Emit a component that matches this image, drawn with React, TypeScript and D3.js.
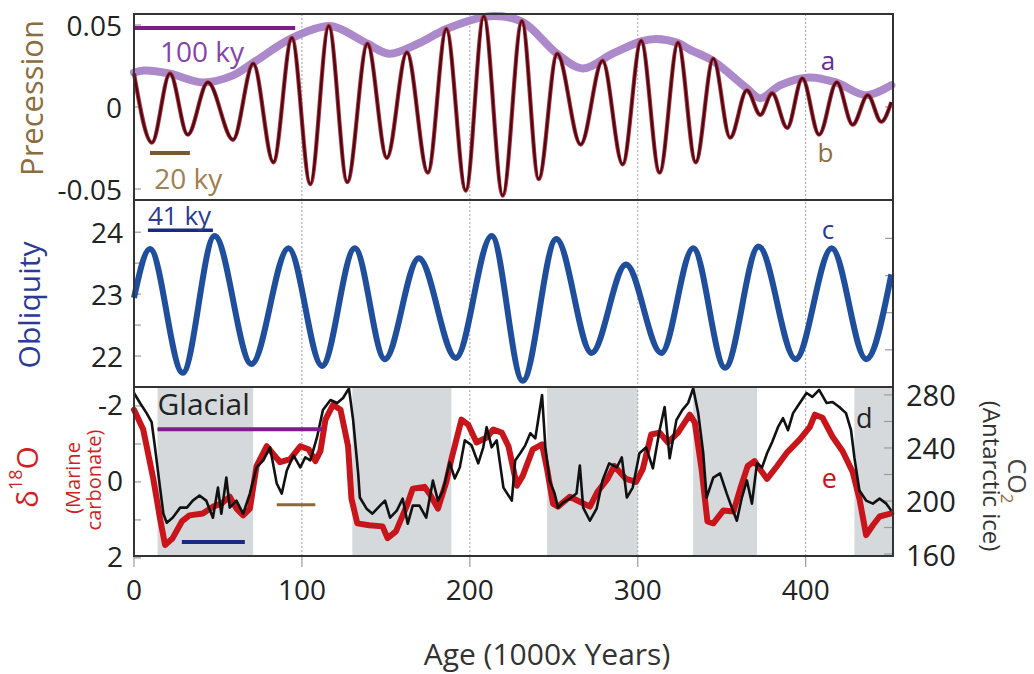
import React from "react";
import * as d3 from "d3";

// ---- data (age in 1000 years) ----
const precessionAge = [0, 10.7, 21.4, 32, 44, 59, 71, 83, 94, 105, 116, 127, 139, 150.6, 162.5, 175, 186, 197.6, 208.3, 219.6, 231, 241, 252, 266, 279, 291, 302, 313, 324, 334.5, 345, 355, 365, 373, 380, 389, 398, 408, 418.5, 428, 437, 445, 451];
const precessionVal = [0.0205, -0.0217, 0.0205, -0.0169, 0.0151, -0.02, 0.0265, -0.0337, 0.0422, -0.047, 0.0494, -0.0458, 0.0386, -0.031, 0.0333, -0.04, 0.0476, -0.051, 0.0554, -0.054, 0.0524, -0.044, 0.0325, -0.0229, 0.0283, -0.035, 0.0404, -0.04, 0.0392, -0.0337, 0.0295, -0.0187, 0.0102, -0.0048, 0.0084, -0.0127, 0.0175, -0.0169, 0.0151, -0.0108, 0.0072, -0.009, 0.003];

const envelopeAge = [0, 6, 21, 41, 59, 71, 94, 116, 123, 139, 152, 170, 186, 212, 231, 252, 267, 285, 302, 311, 324, 331, 345, 365, 373, 385, 402, 418, 436, 451];
const envelopeVal = [0.021, 0.0223, 0.0205, 0.015, 0.0193, 0.027, 0.042, 0.0494, 0.0476, 0.0386, 0.0325, 0.039, 0.0476, 0.0554, 0.052, 0.0325, 0.0235, 0.0325, 0.04, 0.0415, 0.039, 0.035, 0.028, 0.0114, 0.0054, 0.0133, 0.018, 0.015, 0.0072, 0.0133];

const obliquityAge = [0, 9.5, 29, 48, 70, 92, 112, 131.5, 149.4, 169.6, 191.7, 213, 231.5, 251.5, 272.5, 293, 314, 333, 352, 372, 394, 415.5, 436, 451];
const obliquityVal = [22.94, 23.73, 21.73, 23.94, 21.87, 23.74, 21.84, 23.74, 21.95, 23.58, 21.97, 23.94, 21.6, 23.89, 22.05, 23.48, 22.05, 23.74, 21.81, 23.77, 21.95, 23.74, 21.95, 23.32];

const d18OAge = [0, 5.5, 11.5, 15.5, 18.5, 23, 28.5, 33, 41, 47, 52, 57, 61, 65, 69, 73, 79, 83, 87, 93, 99, 104, 108, 111, 114, 118.5, 123, 127.5, 129.5, 133, 140, 148, 151, 156, 162.5, 166, 173, 176, 181, 186, 189, 195, 199, 204, 210, 214, 219, 223, 228, 231.5, 237.5, 243, 246, 249.5, 252.5, 259.5, 265.5, 271.5, 276, 282, 286, 293, 299, 303, 308, 313, 318, 324, 331, 334, 338, 341.5, 345, 351, 357, 361, 365.5, 369.5, 374, 377, 383, 389, 396.5, 402.5, 405.5, 410, 416, 422, 428, 432, 436, 440, 444, 451];
const d18OVal = [-1.9, -1.38, -0.08, 0.96, 1.66, 1.48, 1.04, 0.88, 0.83, 0.65, 0.57, 0.39, 0.7, 0.88, 0.7, -0.42, -0.94, -0.73, -0.52, -0.6, -0.94, -0.86, -0.55, -0.81, -1.64, -2.03, -1.9, -0.94, 0.44, 1.09, 1.14, 1.17, 1.48, 1.3, 0.62, 0.18, 0.13, 0.31, 0.7, 0, -0.6, -1.64, -1.51, -1.04, -1.17, -1.38, -1.3, -0.94, 0.1, -0.16, -0.86, -0.99, -0.34, 0.57, 0.65, 0.39, 0.52, 0.65, 0.26, -0.08, -0.42, -0.08, 0, -0.34, -1.25, -1.3, -1.04, -1.3, -1.77, -1.56, -0.34, 1.04, 1.09, 0.75, 0.78, 0.18, -0.42, -0.55, -0.26, -0.08, -0.42, -0.78, -1.12, -1.45, -1.77, -1.69, -1.19, -0.81, -0.26, 0.44, 1.4, 1.14, 0.91, 0.83];

const co2Age = [0, 3.6, 7.5, 10.5, 12.5, 15.5, 17.5, 19.5, 23, 27.5, 31.5, 35, 39, 43, 47, 50, 52, 55, 57, 61, 65, 69, 73, 77, 81, 85, 88, 91, 95, 99, 102, 105, 109, 112.5, 117, 121, 124.5, 128, 130.5, 133.5, 134.5, 138.5, 142, 146.5, 149.5, 152.5, 156.5, 160, 163, 166, 170, 174, 178, 181, 184, 188, 191, 194, 197, 201, 205, 208, 210, 213, 216, 220, 225, 227, 230, 233, 236, 239, 243, 245, 247.5, 250.5, 252.5, 255.5, 259.5, 263.5, 265.5, 267.5, 271.5, 275.5, 279, 283, 287.5, 290.5, 293.5, 297, 301, 305, 309, 313, 316, 319, 323, 326.5, 330, 333, 336, 339, 341, 345, 349, 353, 356, 359, 362, 365, 368, 371, 374, 377, 380, 383.5, 386.5, 389.5, 392.5, 396.5, 400.5, 404, 408, 412.5, 416, 420, 424, 427, 429, 432, 436, 440, 444, 448, 451];
const co2Val = [281.5, 273.9, 266.3, 259.5, 240.5, 210.1, 190.4, 183.6, 187.4, 195, 195, 200.3, 204.1, 200.3, 187.4, 210.1, 190.4, 217.7, 195, 200.3, 190.4, 205.6, 225.3, 230.6, 240.5, 213.2, 205.6, 223, 234.4, 225.3, 232.9, 230.6, 248.1, 268.6, 276.2, 273.9, 277.7, 285, 261, 220.8, 202.6, 194.2, 190.4, 196.5, 200.3, 187.4, 192.7, 201.8, 182.8, 196.5, 196.5, 187.4, 215.5, 200.3, 207.9, 229.1, 217, 225.3, 245.8, 242, 228.4, 240.5, 255.7, 240.5, 245.8, 210.1, 200.3, 230.6, 236, 242, 251.1, 247.3, 280, 240.5, 215.5, 205.6, 195, 198.8, 201.8, 205.6, 226.8, 195, 185.1, 194.2, 215.5, 228.4, 225.3, 232.9, 202.6, 210.1, 236, 240.5, 224.6, 253.4, 270.9, 232.2, 261, 268.6, 273.9, 285, 266.3, 236, 202.6, 217.7, 220.8, 205.6, 195, 185.1, 202.6, 215.5, 198, 228.4, 225.3, 236, 244.3, 255.7, 262.5, 253.4, 266.3, 273.9, 281.5, 278.5, 283.8, 273.9, 274.7, 270.9, 266.3, 253.4, 232.9, 207.9, 200.3, 198, 201.8, 198, 192.7];

const glacialStart = [14, 130, 246, 333, 429];
const glacialEnd = [71, 189, 300, 371, 452];

const ageTicks = [0, 100, 200, 300, 400];
const gridAges = [100, 200, 300, 400];
const precTicks = [0.05, 0, -0.05];
const precTickLabels = ["0.05", "0", "-0.05"];
const oblTicks = [24, 23, 22];
const oblMinor = [24, 23.5, 23, 22.5, 22];
const oblRightTicks = [23.9, 23.3, 22.7, 22.1];
const d18OTicks = [-2, 0, 2];
const d18OMinor = [-2, -1, 0, 1, 2];
const co2Ticks = [280, 240, 200, 160];
const co2Minor = [280, 260, 240, 220, 200, 180, 160];

const FONT = "'Open Sans', sans-serif";

export default function App() {
  const left = 134;
  const right = 893;
  const p1 = [14, 200];
  const p2 = [200, 387];
  const p3 = [387, 556];

  const x = d3.scaleLinear().domain([0, 452]).range([left, right]);
  const yP = d3.scaleLinear().domain([-0.0567, 0.0567]).range([p1[1], p1[0]]);
  const yO = d3.scaleLinear().domain([21.5, 24.52]).range([p2[1], p2[0]]);
  const yD = d3.scaleLinear().domain([-2.5, 1.95]).range([p3[0], p3[1]]);
  const yC = d3.scaleLinear().domain([158.5, 286]).range([p3[1], p3[0]]);

  const lineP = d3.line<number>().x((_, i) => x(precessionAge[i])).y((d) => yP(d)).curve(d3.curveMonotoneX);
  const lineE = d3.line<number>().x((_, i) => x(envelopeAge[i])).y((d) => yP(d)).curve(d3.curveCatmullRom);
  const lineO = d3.line<number>().x((_, i) => x(obliquityAge[i])).y((d) => yO(d)).curve(d3.curveMonotoneX);
  const lineD = d3.line<number>().x((_, i) => x(d18OAge[i])).y((d) => yD(d));
  const lineC = d3.line<number>().x((_, i) => x(co2Age[i])).y((d) => yC(d));

  const tickColor = "#9a9a9a";
  const textColor = "#222";

  return (
    <div style={{ position: "fixed", left: 0, top: 0 }}>
      <svg width={1034} height={674} style={{ display: "block", background: "#fff" }} fontFamily={FONT}>
        {/* glacial shading */}
        {glacialStart.map((s, i) => (
          <rect key={"g" + i} x={x(s)} y={p3[0]} width={x(glacialEnd[i]) - x(s)} height={p3[1] - p3[0]} fill="#d6d9dc" />
        ))}

        {/* dotted grid */}
        {gridAges.map((a) => (
          <line key={"grid" + a} x1={x(a)} x2={x(a)} y1={p1[0]} y2={p3[1]} stroke="#a0a0a0" strokeWidth={1} strokeDasharray="2,2" />
        ))}

        {/* inner ticks */}
        {precTicks.map((t) => (
          <line key={"pt" + t} x1={left} x2={left + 7} y1={yP(t)} y2={yP(t)} stroke={tickColor} strokeWidth={1.2} />
        ))}
        <line x1={right - 8} x2={right} y1={yP(0)} y2={yP(0)} stroke={tickColor} strokeWidth={1.2} />
        {oblMinor.map((t) => (
          <line key={"ot" + t} x1={left} x2={left + 7} y1={yO(t)} y2={yO(t)} stroke={tickColor} strokeWidth={1.2} />
        ))}
        {oblRightTicks.map((t) => (
          <line key={"or" + t} x1={right - 8} x2={right} y1={yO(t)} y2={yO(t)} stroke={tickColor} strokeWidth={1.2} />
        ))}
        {d18OMinor.map((t) => (
          <line key={"dt" + t} x1={left} x2={left + 7} y1={yD(t)} y2={yD(t)} stroke={tickColor} strokeWidth={1.2} />
        ))}
        {co2Minor.map((t) => (
          <line key={"ct" + t} x1={right - 9} x2={right} y1={yC(t)} y2={yC(t)} stroke={tickColor} strokeWidth={1.2} />
        ))}
        {ageTicks.map((a) => (
          <line key={"at" + a} x1={x(a)} x2={x(a)} y1={p3[1] + 1} y2={p3[1] + 11} stroke={tickColor} strokeWidth={1.2} />
        ))}

        {/* precession panel */}
        <path d={lineE(envelopeVal) || ""} fill="none" stroke="#a47fc6" strokeWidth={8} strokeLinecap="round" opacity={0.92} />
        <path d={lineP(precessionVal) || ""} fill="none" stroke="#b2323f" strokeWidth={4.2} />
        <path d={lineP(precessionVal) || ""} fill="none" stroke="#4e0a12" strokeWidth={2.4} />

        <line x1={x(0)} x2={x(96)} y1={yP(0.0482)} y2={yP(0.0482)} stroke="#7b1f86" strokeWidth={4} />
        <text x={x(15.5)} y={yP(0.0274)} fontSize={28} fill="#8446a8">100 ky</text>
        <line x1={x(9.5)} x2={x(33.3)} y1={yP(-0.028)} y2={yP(-0.028)} stroke="#7a5830" strokeWidth={4} />
        <text x={x(12)} y={yP(-0.0497)} fontSize={28} fill="#a0804f">20 ky</text>
        <text x={x(409)} y={yP(0.0228)} fontSize={26} fill="#6a2c92">a</text>
        <text x={x(407)} y={yP(-0.0335)} fontSize={26} fill="#8c6d3f">b</text>

        {/* obliquity panel */}
        <path d={lineO(obliquityVal) || ""} fill="none" stroke="#1f4f9c" strokeWidth={6} strokeLinejoin="round" />
        <line x1={x(8.3)} x2={x(47)} y1={yO(24.03)} y2={yO(24.03)} stroke="#1a2a80" strokeWidth={3.5} />
        <text x={x(8.3)} y={yO(24.12)} fontSize={26} fill="#2b3a95">41 ky</text>
        <text x={x(409.5)} y={yO(23.89)} fontSize={26} fill="#2b3a95">c</text>

        {/* ice age panel */}
        <path d={lineD(d18OVal) || ""} fill="none" stroke="#c8151b" strokeWidth={6} strokeLinejoin="round" strokeLinecap="round" />
        <path d={lineC(co2Val) || ""} fill="none" stroke="#111" strokeWidth={2.6} strokeLinejoin="round" />
        <line x1={x(14)} x2={x(112)} y1={yD(-1.39)} y2={yD(-1.39)} stroke="#7b1f86" strokeWidth={4} />
        <line x1={x(28.5)} x2={x(66)} y1={yD(1.58)} y2={yD(1.58)} stroke="#1a2a80" strokeWidth={4} />
        <line x1={x(85)} x2={x(108)} y1={yD(0.6)} y2={yD(0.6)} stroke="#8a6a3a" strokeWidth={3} />
        <text x={x(14)} y={yD(-1.75)} fontSize={30} fill={textColor}>Glacial</text>
        <text x={x(430)} y={yC(255)} fontSize={27} fill="#222">d</text>
        <text x={x(409.5)} y={yC(210)} fontSize={27} fill="#c8151b">e</text>

        {/* panel frames */}
        {[p1, p2, p3].map((p, i) => (
          <rect key={"f" + i} x={left} y={p[0]} width={right - left} height={p[1] - p[0]} fill="none" stroke="#333" strokeWidth={2} />
        ))}

        {/* tick labels */}
        {precTicks.map((t, i) => (
          <text key={"pl" + t} x={122} y={yP(t)} fontSize={28} fill={textColor} textAnchor="end" dominantBaseline="central">{precTickLabels[i]}</text>
        ))}
        {oblTicks.map((t) => (
          <text key={"ol" + t} x={123} y={yO(t)} fontSize={28} fill={textColor} textAnchor="end" dominantBaseline="central">{t}</text>
        ))}
        {d18OTicks.map((t) => (
          <text key={"dl" + t} x={123} y={yD(t) - 2} fontSize={28} fill={textColor} textAnchor="end" dominantBaseline="central">{t}</text>
        ))}
        {co2Ticks.map((t) => (
          <text key={"cl" + t} x={906} y={yC(t)} fontSize={29} fill={textColor} dominantBaseline="central">{t}</text>
        ))}
        {ageTicks.map((a) => (
          <text key={"al" + a} x={x(a)} y={600} fontSize={28} fill={textColor} textAnchor="middle">{a}</text>
        ))}

        {/* axis titles */}
        <text x={547} y={665} fontSize={30} fill="#333" textAnchor="middle">Age (1000x Years)</text>
        <text transform="translate(43,98) rotate(-90)" fontSize={31} fill="#8c6d3f" textAnchor="middle">Precession</text>
        <text transform="translate(40,305) rotate(-90)" fontSize={30} fill="#2b3a95" textAnchor="middle">Obliquity</text>
        <text transform="translate(38,477) rotate(-90)" fill="#d11f25" textAnchor="middle">
          <tspan fontSize={30}>δ</tspan>
          <tspan fontSize={18} dy={-16}>18</tspan>
          <tspan fontSize={30} dy={16}>O</tspan>
        </text>
        <text transform="translate(80,478) rotate(-90)" fontSize={20} fill="#d11f25" textAnchor="middle">(Marine</text>
        <text transform="translate(101,480) rotate(-90)" fontSize={20} fill="#d11f25" textAnchor="middle">carbonate)</text>
        <text transform="translate(1008,481) rotate(90)" fill="#444" textAnchor="middle">
          <tspan fontSize={25}>CO</tspan>
          <tspan fontSize={17} dy={7} fill="#8c6d3f">2</tspan>
        </text>
        <text transform="translate(983,476) rotate(90)" fontSize={24} fill="#333" textAnchor="middle">(Antarctic ice)</text>
      </svg>
    </div>
  );
}
